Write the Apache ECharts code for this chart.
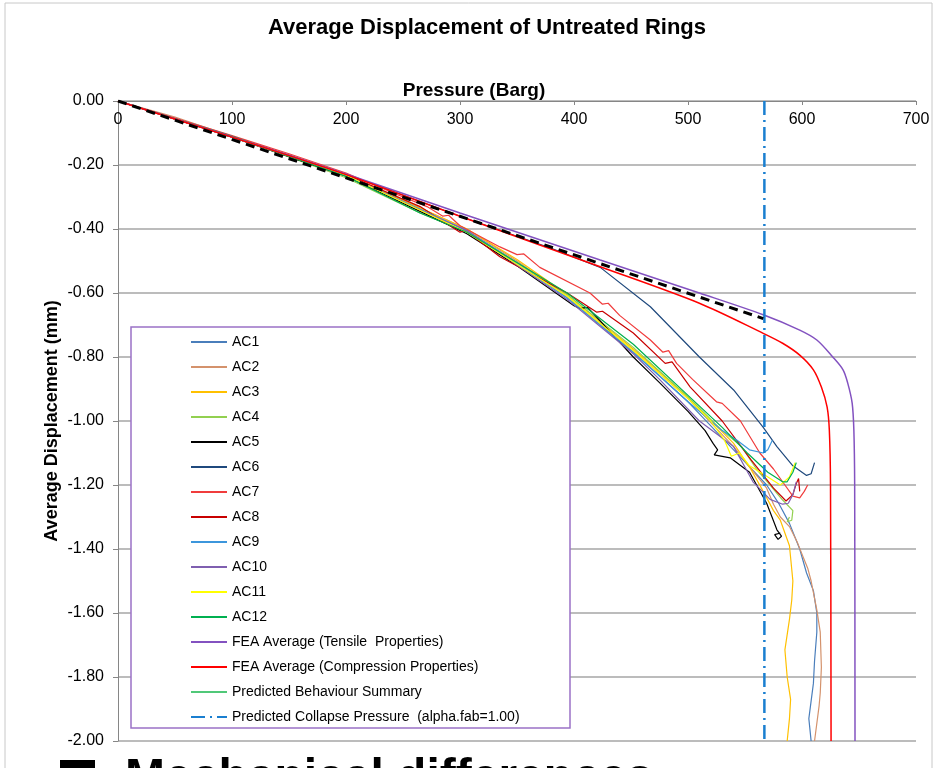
<!DOCTYPE html>
<html>
<head>
<meta charset="utf-8">
<title>Average Displacement of Untreated Rings</title>
<script src="https://cdn.jsdelivr.net/npm/echarts@6/dist/echarts.min.js"></script>
<style>
  html, body { margin: 0; padding: 0; background: #fff; }
  #main { width: 940px; height: 768px; }
</style>
</head>
<body>
<div id="main"></div>
<script>
// data: [pressure (Barg), displacement (mm)]
var ac1 = [[0,0],[50,-0.055],[100,-0.112],[150,-0.17],[200,-0.232],[250,-0.315],[306,-0.405],[350,-0.505],[394,-0.615],[452,-0.785],[500,-0.94],[540,-1.09],[569,-1.2],[580,-1.26],[589,-1.32],[598,-1.40],[604,-1.475],[610,-1.53],[613,-1.6],[613,-1.66],[611,-1.75],[610,-1.82],[606,-1.93],[608,-2.0]];
var ac2 = [[0,0],[50,-0.05],[100,-0.11],[150,-0.168],[200,-0.23],[250,-0.31],[306,-0.40],[350,-0.50],[394,-0.61],[452,-0.78],[500,-0.93],[540,-1.08],[569,-1.21],[575,-1.26],[581,-1.30],[589,-1.33],[596,-1.38],[601,-1.425],[605,-1.46],[608,-1.5],[613,-1.59],[616,-1.66],[617,-1.77],[616,-1.85],[615,-1.89],[611,-2.0]];
var ac3 = [[0,0],[100,-0.112],[200,-0.232],[250,-0.31],[306,-0.40],[350,-0.495],[394,-0.605],[452,-0.775],[500,-0.925],[540,-1.07],[555,-1.15],[566,-1.22],[575,-1.28],[581,-1.31],[589,-1.39],[592,-1.5],[591,-1.56],[589,-1.62],[585,-1.715],[587,-1.8],[590,-1.87],[589,-1.93],[587,-2.0]];
var ac4 = [[0,0],[100,-0.11],[200,-0.24],[265,-0.35],[306,-0.41],[350,-0.505],[394,-0.605],[452,-0.77],[500,-0.925],[530,-1.03],[547,-1.08],[560,-1.15],[572,-1.20],[583,-1.247],[592,-1.28],[591,-1.31],[587,-1.315],[589,-1.3]];
var ac5 = [[0,0],[100,-0.113],[200,-0.235],[265,-0.345],[306,-0.415],[350,-0.515],[400,-0.64],[405,-0.648],[412,-0.645],[452,-0.80],[475,-0.88],[500,-0.97],[515,-1.03],[522,-1.07],[526,-1.09],[523,-1.106],[537,-1.115],[554,-1.16],[569,-1.257],[578,-1.34],[582,-1.36],[579,-1.37],[576,-1.355],[581,-1.35]];
var ac6 = [[0,0],[100,-0.112],[200,-0.228],[300,-0.36],[380,-0.46],[423,-0.52],[467,-0.643],[510,-0.80],[540,-0.903],[566,-1.02],[578,-1.08],[592,-1.14],[604,-1.17],[608,-1.165],[611,-1.13]];
var ac7 = [[0,0],[50,-0.053],[100,-0.108],[150,-0.165],[200,-0.225],[240,-0.285],[271,-0.33],[285,-0.36],[290,-0.357],[300,-0.39],[335,-0.456],[350,-0.48],[356,-0.478],[370,-0.52],[414,-0.60],[425,-0.635],[430,-0.632],[440,-0.67],[467,-0.747],[478,-0.785],[483,-0.78],[490,-0.82],[504,-0.87],[525,-0.94],[530,-0.945],[546,-1.0],[563,-1.10],[575,-1.15],[585,-1.20],[592,-1.235],[598,-1.24],[602,-1.22],[605,-1.20]];
var ac8 = [[0,0],[100,-0.112],[200,-0.23],[265,-0.33],[300,-0.41],[305,-0.405],[335,-0.487],[394,-0.60],[420,-0.66],[425,-0.657],[452,-0.725],[480,-0.82],[486,-0.815],[502,-0.894],[530,-1.0],[555,-1.12],[575,-1.21],[586,-1.25],[592,-1.23],[595,-1.195],[597,-1.18],[598,-1.22]];
var ac9 = [[0,0],[100,-0.112],[200,-0.232],[306,-0.405],[394,-0.615],[452,-0.785],[500,-0.94],[530,-1.03],[543,-1.06],[554,-1.09],[566,-1.10],[570,-1.09],[574,-1.06]];
var ac10 = [[0,0],[100,-0.112],[200,-0.232],[265,-0.34],[306,-0.405],[394,-0.62],[452,-0.79],[475,-0.87],[510,-1.0],[540,-1.08],[557,-1.19],[572,-1.245],[583,-1.26],[588,-1.257],[592,-1.23],[595,-1.19]];
var ac11 = [[0,0],[100,-0.112],[200,-0.232],[306,-0.41],[394,-0.61],[452,-0.78],[500,-0.93],[520,-1.0],[532,-1.06],[538,-1.11],[545,-1.10],[554,-1.14],[568,-1.17],[581,-1.20],[589,-1.175],[594,-1.13]];
var ac12 = [[0,0],[100,-0.11],[200,-0.235],[265,-0.35],[306,-0.41],[394,-0.60],[452,-0.76],[500,-0.92],[530,-1.02],[552,-1.10],[570,-1.16],[583,-1.19],[587,-1.19],[592,-1.16],[595,-1.13]];
var feaTensile = [[0,0],[100,-0.112],[200,-0.228],[300,-0.35],[423,-0.497],[510,-0.60],[566,-0.668],[598,-0.716],[613,-0.747],[627,-0.80],[636,-0.84],[640,-0.88],[644,-0.944],[645.5,-1.03],[646.2,-1.2],[646.5,-2.0]];
var feaCompression = [[0,0],[100,-0.113],[200,-0.23],[300,-0.36],[423,-0.518],[510,-0.632],[566,-0.726],[583,-0.757],[598,-0.794],[610,-0.84],[617,-0.894],[622,-0.956],[624,-1.03],[625,-1.2],[625.5,-2.0]];
var predictedSummary = [];
var predictedTrend = [[0,0],[566,-0.68]];
var collapsePressure = [[567,0],[567,-2.0]];

var seriesNames = ['AC1','AC2','AC3','AC4','AC5','AC6','AC7','AC8','AC9','AC10','AC11','AC12',
  'FEA Average (Tensile  Properties)','FEA Average (Compression Properties)',
  'Predicted Behaviour Summary','Predicted Collapse Pressure  (alpha.fab=1.00)'];
var seriesData = [ac1, ac2, ac3, ac4, ac5, ac6, ac7, ac8, ac9, ac10, ac11, ac12,
  feaTensile, feaCompression, predictedSummary, collapsePressure];
var seriesColors = ['#4a7ebb','#d4926c','#ffc000','#92d050','#000000','#1f497d','#f03c3c','#c80000',
  '#3c96dc','#7f5fb0','#ffff00','#00b050','#8352c0','#ff0000','#50c878','#1a7fd0'];

var myChart = echarts.init(document.getElementById('main'));
var font = 'Liberation Sans, Arial, sans-serif';

var series = seriesNames.map(function (name, i) {
  var s = {
    name: name,
    type: 'line',
    data: seriesData[i],
    symbol: 'none',
    color: seriesColors[i],
    lineStyle: { width: 1.2, color: seriesColors[i] },
    z: 2
  };
  if (i === 12 || i === 13) {
    s.lineStyle.width = 1.5;
    s.smooth = 0.3;
  }
  if (i === 15) {
    s.lineStyle = { width: 2.5, color: seriesColors[i], type: [14, 5, 2, 5] };
  }
  return s;
});
// black dashed trend line (not listed in the legend)
series.push({
  name: 'trend',
  type: 'line',
  data: predictedTrend,
  symbol: 'none',
  lineStyle: { width: 3, color: '#000', type: [9, 6] },
  z: 3
});

var option = {
  animation: false,
  backgroundColor: '#fff',
  textStyle: { fontFamily: font },
  title: {
    text: 'Average Displacement of Untreated Rings',
    left: 482,
    top: 12,
    textAlign: 'center',
    textStyle: { fontFamily: font, fontSize: 22, fontWeight: 'bold', color: '#000' }
  },
  grid: { left: 118, right: 24, top: 101, bottom: 27 },
  xAxis: {
    type: 'value',
    position: 'top',
    min: 0, max: 700, interval: 100,
    name: 'Pressure (Barg)',
    nameLocation: 'middle',
    nameGap: 1,
    nameMoveOverlap: false,
    nameTextStyle: { fontFamily: font, fontSize: 19, fontWeight: 'bold', color: '#000', padding: [0, 86, 0, 0] },
    axisLine: { onZero: false, lineStyle: { color: '#868686', width: 1 } },
    axisTick: { inside: true, length: 4, lineStyle: { color: '#868686' } },
    axisLabel: { inside: true, margin: 11, fontSize: 16, color: '#000', fontFamily: font },
    splitLine: { show: false }
  },
  yAxis: {
    type: 'value',
    min: -2, max: 0, interval: 0.2,
    name: 'Average Displacement (mm)',
    nameLocation: 'middle',
    nameGap: 57,
    nameMoveOverlap: false,
    nameTextStyle: { fontFamily: font, fontSize: 18, fontWeight: 'bold', color: '#000' },
    axisLine: { show: true, onZero: false, lineStyle: { color: '#868686', width: 1 } },
    axisTick: { show: true, length: 5, lineStyle: { color: '#868686' } },
    axisLabel: {
      margin: 14, fontSize: 16, color: '#000', fontFamily: font,
      formatter: function (v) { return v.toFixed(2); }
    },
    splitLine: { show: true, lineStyle: { color: '#a6a6a6', width: 1.5 } }
  },
  legend: {
    data: seriesNames,
    orient: 'vertical',
    left: 190,
    top: 335,
    padding: 0,
    itemWidth: 36,
    itemHeight: 14,
    itemGap: 11,
    selectedMode: false,
    itemStyle: { opacity: 0 },
    textStyle: { fontFamily: font, fontSize: 14, color: '#000' },
    z: 5
  },
  graphic: [
    { type: 'rect', z: 1, silent: true,
      shape: { x: 5, y: 3, width: 927, height: 820 },
      style: { fill: 'none', stroke: '#c8c8c8', lineWidth: 1 } },
    { type: 'rect', z: 4, silent: true,
      shape: { x: 131, y: 327, width: 439, height: 401 },
      style: { fill: '#fff', stroke: '#9a72c6', lineWidth: 1.5 } },
    { type: 'rect', z: 4, silent: true,
      shape: { x: 60, y: 760, width: 35, height: 35 },
      style: { fill: '#000' } },
    { type: 'text', z: 4, silent: true, x: 125, y: 755,
      style: { text: 'Mechanical differences', fill: '#000', font: 'bold 48px Liberation Sans, Arial, sans-serif', textVerticalAlign: 'top' } }
  ],
  series: series
};

myChart.setOption(option);
</script>
</body>
</html>
